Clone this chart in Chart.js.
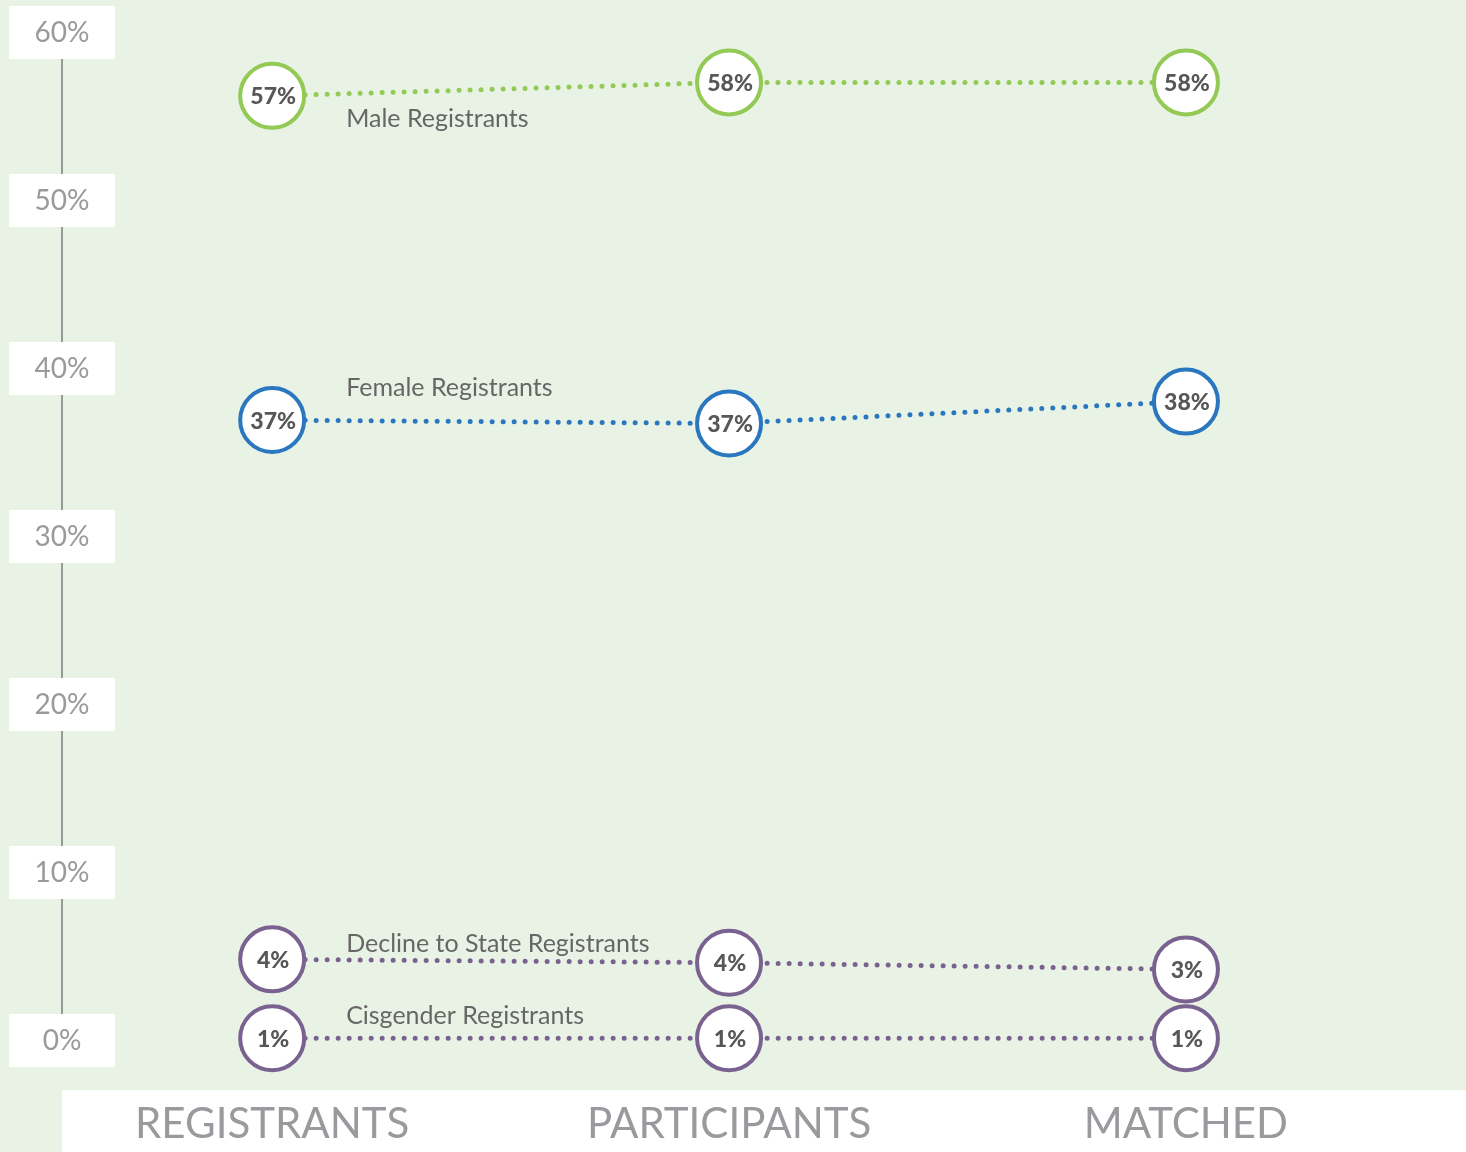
<!DOCTYPE html>
<html>
<head>
<meta charset="utf-8">
<script src="https://cdn.jsdelivr.net/npm/chart.js@4.4.1/dist/chart.umd.min.js"></script>
<style>
  body { margin: 0; background: #e9f3e5; overflow: hidden; }
  .chart-wrap { width: 1466px; height: 1152px; position: relative; }
</style>
</head>
<body>
<div class="chart-wrap"><canvas id="genderChart"></canvas></div>
<script>
// categories along the bottom
const stages = ['REGISTRANTS', 'PARTICIPANTS', 'MATCHED'];

// y axis ticks (percent)
const yTicks = [0, 10, 20, 30, 40, 50, 60];

// series values as placed against the axis
const maleValues = [56.2, 57.0, 57.0];
const femaleValues = [36.9, 36.7, 38.0];
const declineValues = [4.8, 4.6, 4.2];
const cisValues = [0.1, 0.1, 0.1];

// printed labels in the circles
const maleLabels = ['57%', '58%', '58%'];
const femaleLabels = ['37%', '37%', '38%'];
const declineLabels = ['4%', '4%', '3%'];
const cisLabels = ['1%', '1%', '1%'];

const seriesNames = ['Male Registrants', 'Female Registrants', 'Decline to State Registrants', 'Cisgender Registrants'];

const green = '#93c955';
const blue = '#2a77bf';
const purple = '#7a6290';

function makeSet(name, values, labels, color, nameOffset) {
    return {
        label: name,
        data: values.map((v, i) => ({ x: i, y: v })),
        circleLabels: labels,
        nameOffset: nameOffset,
        borderColor: color,
        borderWidth: 5,
        borderDash: [0, 11],
        borderCapStyle: 'round',
        pointRadius: 32,
        pointHoverRadius: 32,
        pointBorderWidth: 4,
        pointBorderColor: color,
        pointBackgroundColor: '#ffffff',
        tension: 0,
        clip: false
    };
}

// background, bottom band, y axis boxes, circle text
const backdropPlugin = {
    id: 'backdrop',
    beforeDraw(chart) {
        const ctx = chart.ctx;
        const area = chart.chartArea;
        const y = chart.scales.y;
        const x = chart.scales.x;
        ctx.save();
        ctx.fillStyle = '#e9f3e5';
        ctx.fillRect(0, 0, chart.width, chart.height);
        ctx.fillStyle = '#ffffff';
        ctx.fillRect(area.left, x.top + 50, chart.width - area.left, chart.height - x.top - 50);

        // axis line
        ctx.strokeStyle = '#999999';
        ctx.lineWidth = 2;
        ctx.beginPath();
        ctx.moveTo(area.left, y.getPixelForValue(yTicks[yTicks.length - 1]));
        ctx.lineTo(area.left, y.getPixelForValue(yTicks[0]));
        ctx.stroke();

        // tick boxes
        ctx.font = '28px Lato';
        ctx.textAlign = 'center';
        ctx.textBaseline = 'middle';
        yTicks.forEach(t => {
            const py = y.getPixelForValue(t);
            ctx.fillStyle = '#ffffff';
            ctx.fillRect(area.left - 53, py - 26, 106, 53);
            ctx.fillStyle = '#9a9a9a';
            ctx.fillText(t + '%', area.left, py + 1);
        });
        ctx.restore();
    },
    afterDatasetsDraw(chart) {
        const ctx = chart.ctx;
        ctx.save();
        ctx.textBaseline = 'middle';
        chart.data.datasets.forEach((ds, i) => {
            const meta = chart.getDatasetMeta(i);
            ctx.textAlign = 'center';
            ctx.font = '900 23px Lato';
            ctx.fillStyle = '#575757';
            meta.data.forEach((pt, j) => {
                ctx.fillText(ds.circleLabels[j], pt.x + 1, pt.y + 1);
            });
            // series name beside first point
            const first = meta.data[0];
            ctx.font = '25px Lato';
            ctx.fillStyle = '#666666';
            ctx.textAlign = 'left';
            ctx.fillText(ds.label, first.x + 74, first.y + ds.nameOffset);
        });
        ctx.restore();
    }
};

new Chart(document.getElementById('genderChart'), {
    type: 'line',
    data: {
        datasets: [
            makeSet(seriesNames[0], maleValues, maleLabels, green, 23),
            makeSet(seriesNames[1], femaleValues, femaleLabels, blue, -32),
            makeSet(seriesNames[2], declineValues, declineLabels, purple, -15),
            makeSet(seriesNames[3], cisValues, cisLabels, purple, -22)
        ]
    },
    options: {
        responsive: true,
        maintainAspectRatio: false,
        animation: false,
        layout: { autoPadding: false, padding: { left: 62, top: 32, right: 0, bottom: 0 } },
        plugins: {
            legend: { display: false },
            tooltip: { enabled: false }
        },
        scales: {
            x: {
                type: 'linear',
                min: -0.46,
                max: 2.613,
                grid: { display: false, drawTicks: false },
                border: { display: false },
                afterBuildTicks: (scale) => {
                    scale.ticks = stages.map((s, i) => ({ value: i }));
                },
                afterFit: (scale) => {
                    scale.height = 112;
                },
                ticks: {
                    autoSkip: false,
                    maxRotation: 0,
                    padding: 59,
                    color: '#9a9a9e',
                    font: { family: 'Lato', size: 42 },
                    callback: (v) => stages[v]
                }
            },
            y: {
                display: false,
                min: 0,
                max: 60
            }
        }
    },
    plugins: [backdropPlugin]
});
</script>
</body>
</html>
